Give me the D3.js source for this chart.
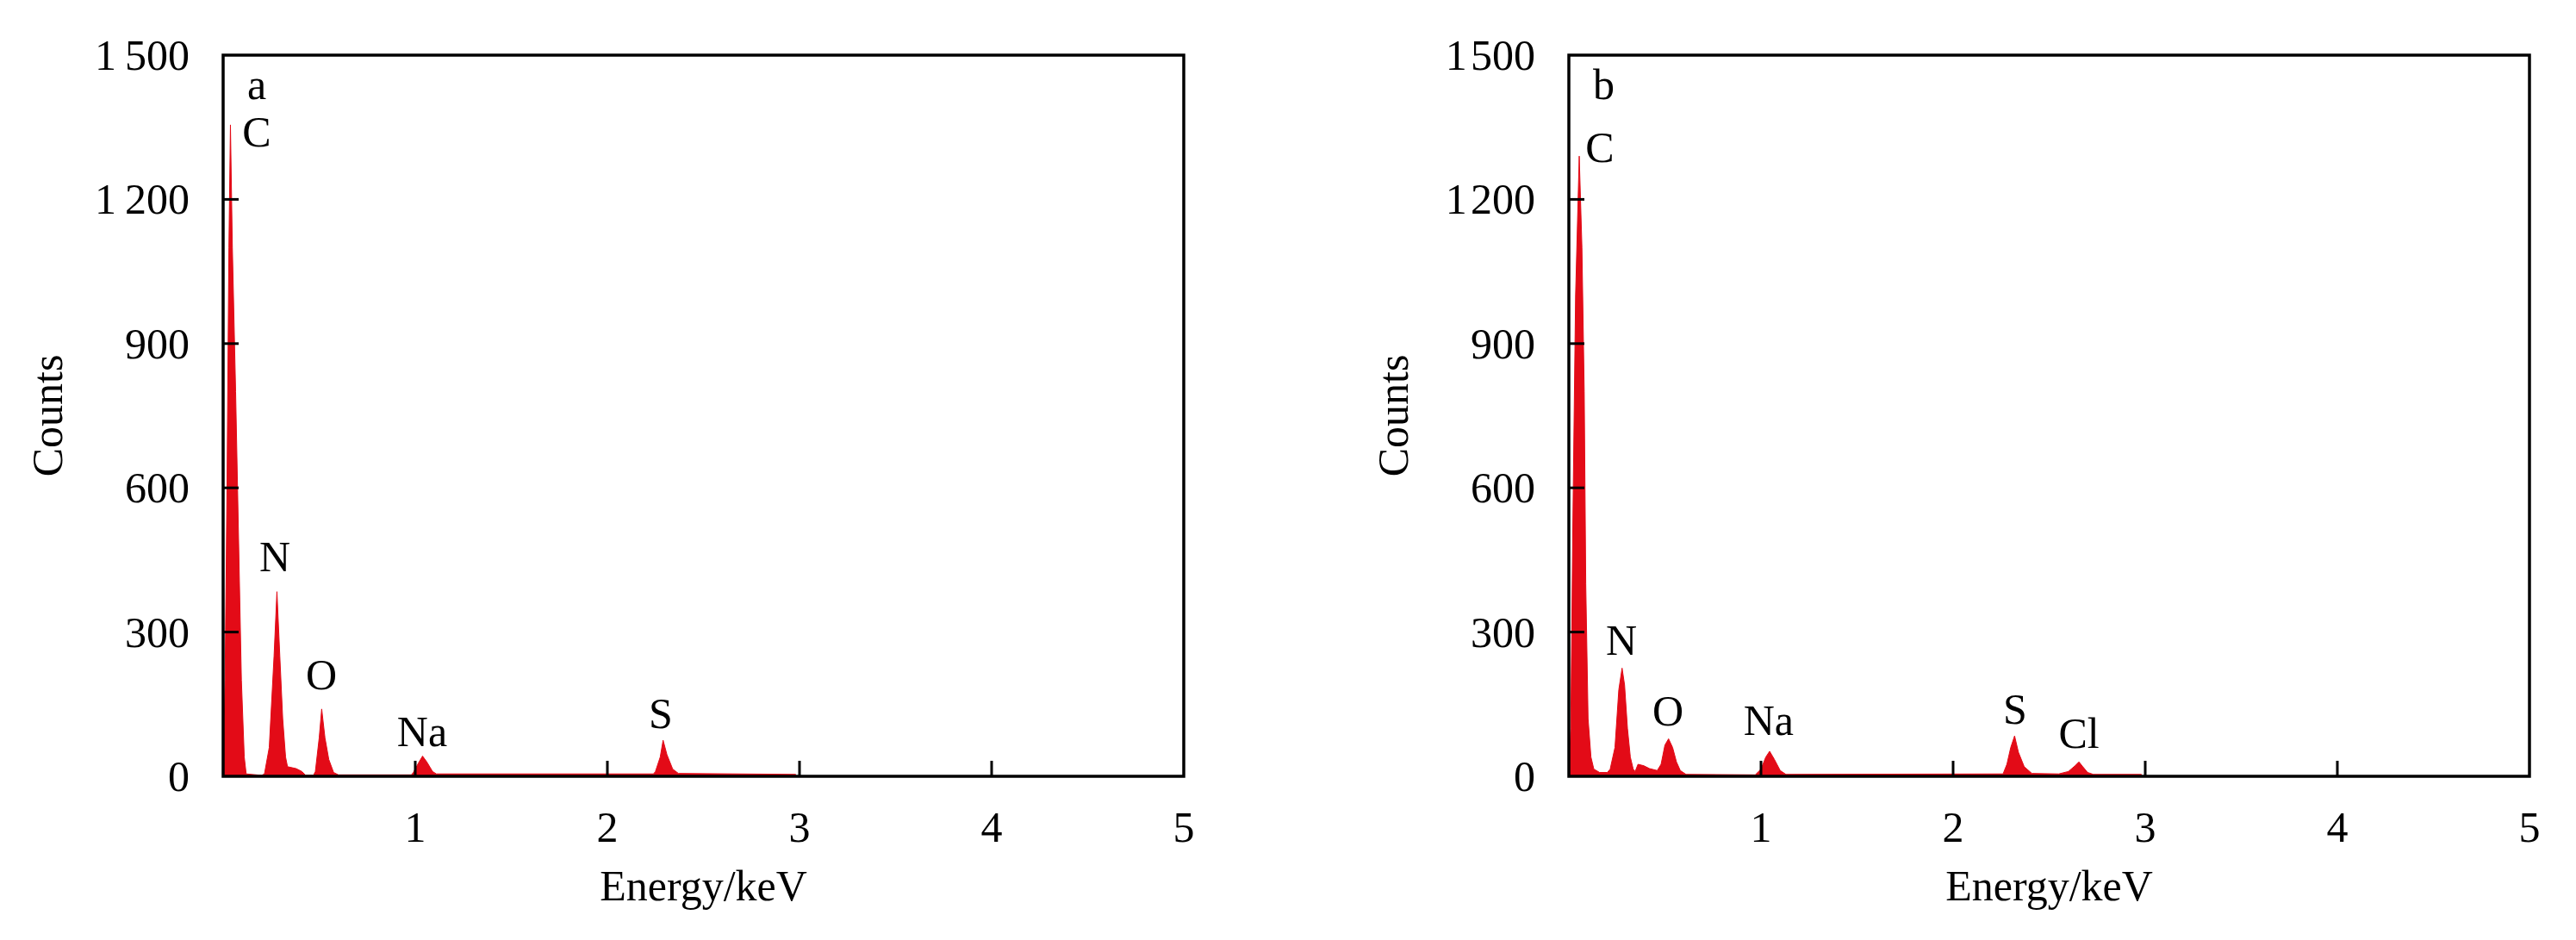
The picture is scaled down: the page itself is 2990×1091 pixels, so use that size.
<!DOCTYPE html>
<html>
<head>
<meta charset="utf-8">
<script src="https://cdn.jsdelivr.net/npm/d3@7"></script>
<style>
	body { margin: 0; background: #fff; }
	text { font-family: "Liberation Serif", "Times New Roman", serif; font-size: 50px; fill: #000; }
	.frame { fill: none; stroke: #000; stroke-width: 3.5; }
	.tick { stroke: #000; stroke-width: 3; }
	.spectrum { fill: #e30b17; stroke: #e30b17; stroke-width: 1; }
</style>
</head>
<body>
<div id="chart"></div>
<script>

	// energy (keV), counts
	const spectrumA = [
		[0.0, 0], [0.01, 200], [0.02, 600], [0.03, 1100], [0.038, 1355], [0.048, 1100],
		[0.065, 800], [0.08, 500], [0.095, 200], [0.11, 40], [0.12, 5], [0.2, 2],
		[0.215, 5], [0.24, 60], [0.265, 250], [0.28, 384], [0.295, 250], [0.31, 120],
		[0.325, 40], [0.335, 20], [0.38, 16], [0.41, 10], [0.43, 2], [0.47, 2],
		[0.48, 10], [0.5, 80], [0.513, 140], [0.53, 80], [0.55, 35], [0.575, 8], [0.6, 3],
		[0.98, 3], [0.99, 8], [1.02, 30], [1.038, 42], [1.06, 30], [1.09, 10], [1.11, 5],
		[2.24, 5], [2.25, 10], [2.275, 40], [2.29, 75], [2.31, 45], [2.34, 15], [2.37, 6],
		[2.98, 4], [2.98, 0]
	];

	const spectrumB = [
		[0.0, 0], [0.01, 100], [0.02, 500], [0.035, 1000], [0.054, 1290], [0.068, 1100],
		[0.08, 800], [0.088, 400], [0.1, 120], [0.115, 40], [0.13, 15], [0.16, 8], [0.2, 8],
		[0.215, 15], [0.24, 60], [0.26, 180], [0.277, 225], [0.29, 190], [0.305, 100],
		[0.32, 40], [0.335, 15], [0.345, 10], [0.36, 25], [0.39, 22], [0.42, 16], [0.46, 12],
		[0.48, 25], [0.5, 65], [0.519, 78], [0.54, 60], [0.56, 30], [0.58, 12], [0.61, 4],
		[0.97, 3], [1.0, 15], [1.025, 40], [1.045, 52], [1.07, 35], [1.1, 12], [1.13, 4],
		[2.26, 5], [2.28, 25], [2.3, 60], [2.32, 84], [2.34, 50], [2.37, 20], [2.41, 6],
		[2.55, 5], [2.6, 10], [2.635, 22], [2.655, 30], [2.675, 20], [2.7, 8], [2.73, 4],
		[2.98, 4], [2.98, 0]
	];

	// element, energy, counts (label anchor)
	const peaksA = [
		["C", 0.175, 1310], ["N", 0.269, 426], ["O", 0.511, 181], ["Na", 1.036, 63], ["S", 2.278, 100]
	];
	const peaksB = [
		["C", 0.161, 1278], ["N", 0.274, 253], ["O", 0.516, 106], ["Na", 1.04, 86],
		["S", 2.323, 109], ["Cl", 2.655, 59]
	];

	const energyTicks = [1, 2, 3, 4, 5];
	const countTicks = [0, 300, 600, 900, 1200, 1500];
	const countLabelsA = ["0", "300", "600", "900", "1\u2009200", "1\u2009500"];
	const countLabelsB = ["0", "300", "600", "900", "1\u200a200", "1\u200a500"];

	const xTitle = "Energy/keV";
	const yTitle = "Counts";

	const width = 2990;
	const height = 1091;
	const plotTop = 64;
	const plotBottom = 901;
	const plotWidth = 1115;
	const tickSize = 18;

	const svg = d3.select("#chart")
					.append("svg")
						.attr("width", width)
						.attr("height", height);

	function drawPanel(left, tag, spectrum, peaks, countLabels) {

		const x = d3.scaleLinear()
					.domain([0, 5])
					.range([left, left + plotWidth]);

		const y = d3.scaleLinear()
					.domain([0, 1500])
					.range([plotBottom, plotTop]);

		const g = svg.append("g").attr("class", "panel");

		const area = d3.area()
						.x((d) => x(d[0]))
						.y0(y(0))
						.y1((d) => y(d[1]));

		g.append("path")
			.datum(spectrum)
			.attr("class", "spectrum")
			.attr("d", area);

		g.append("rect")
			.attr("class", "frame")
			.attr("x", x(0))
			.attr("y", y(1500))
			.attr("width", x(5) - x(0))
			.attr("height", y(0) - y(1500));

		// inner ticks
		g.selectAll(".xtick")
			.data(energyTicks.slice(0, -1)).enter()
			.append("line")
				.attr("class", "tick")
				.attr("x1", (d) => x(d))
				.attr("x2", (d) => x(d))
				.attr("y1", y(0))
				.attr("y2", y(0) - tickSize);

		g.selectAll(".ytick")
			.data(countTicks.slice(1, -1)).enter()
			.append("line")
				.attr("class", "tick")
				.attr("x1", x(0))
				.attr("x2", x(0) + tickSize)
				.attr("y1", (d) => y(d))
				.attr("y2", (d) => y(d));

		g.selectAll(".xlabel")
			.data(energyTicks).enter()
			.append("text")
				.attr("x", (d) => x(d))
				.attr("y", y(0) + 76)
				.attr("text-anchor", "middle")
				.text((d) => d);

		g.selectAll(".ylabel")
			.data(countTicks).enter()
			.append("text")
				.attr("x", x(0) - 39)
				.attr("y", (d) => y(d) + 17)
				.attr("text-anchor", "end")
				.text((d, i) => countLabels[i]);

		g.append("text")
			.attr("x", (x(0) + x(5)) / 2)
			.attr("y", 1045)
			.attr("text-anchor", "middle")
			.text(xTitle);

		g.append("text")
			.attr("transform", `translate(${ x(0) - 187 }, ${ (y(0) + y(1500)) / 2 })rotate(-90)`)
			.attr("text-anchor", "middle")
			.text(yTitle);

		g.append("text")
			.attr("x", x(0) + 28)
			.attr("y", y(1500) + 51)
			.text(tag);

		g.selectAll(".peak")
			.data(peaks).enter()
			.append("text")
				.attr("x", (d) => x(d[1]))
				.attr("y", (d) => y(d[2]))
				.attr("text-anchor", "middle")
				.text((d) => d[0]);
	}

	drawPanel(259, "a", spectrumA, peaksA, countLabelsA);
	drawPanel(1821, "b", spectrumB, peaksB, countLabelsB);

</script>
</body>
</html>
